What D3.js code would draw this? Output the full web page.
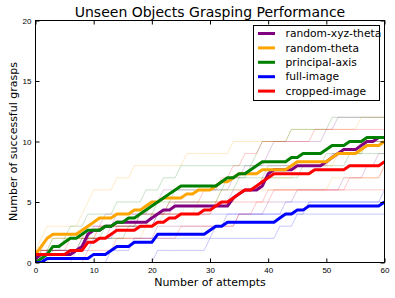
<!DOCTYPE html>
<html>
<head>
<meta charset="utf-8" />
<script src="https://d3js.org/d3.v7.min.js"></script>
<style>
  body { margin: 0; background: #fff; }
  svg { display: block; font-family: "DejaVu Sans", sans-serif; }
  .axis text { font-size: 8px; fill: #000; }
  .axis line { stroke: #000; }
  .axis .domain { display: none; }
</style>
</head>
<body>
<svg id="chart" width="395" height="298"></svg>
<script>

// method names and colours, legend order
var names = ["random-xyz-theta", "random-theta", "principal-axis", "full-image", "cropped-image"];
var colors = ["purple", "orange", "green", "blue", "red"];

var xTicks = [0, 10, 20, 30, 40, 50, 60];
var yTicks = [0, 5, 10, 15, 20];

// mean number of successful grasps after attempt 0..60
var meanXyzTheta = [0.33,0.67,0.67,0.67,0.67,0.67,0.67,1,1.33,2.33,
  2.67,2.67,3,3,3.33,3.33,3.33,3.33,3.33,3.33,
  3.67,4,4.33,4.33,4.67,4.67,4.67,4.67,4.67,4.67,
  4.67,4.67,4.67,4.67,5.33,5.67,6,6,6,6.33,
  7.33,7.67,7.67,7.67,7.67,8,8,8,8,8,
  8.33,8.67,9,9.33,9.33,9.33,9.67,10,10,10.33,
  10.33];
var meanTheta = [0.67,1.33,2,2.33,2.33,2.33,2.33,2.33,2.67,3,
  3.33,3.67,3.67,3.67,4,4,4,4.33,4.33,4.67,
  5,5,5.33,5.33,5.33,5.33,5.67,5.67,6,6,
  6,6.33,6.67,6.67,7,7.33,7.33,7.33,7.33,7.67,
  7.67,7.67,7.67,7.67,8,8.33,8.33,8.33,8.33,8.33,
  8.33,8.67,9,9,9,9,9.33,9.67,9.67,9.67,
  10];
var meanPrincipal = [0,0.33,0.67,1.33,1.33,1.67,2,2,2.33,2.67,
  2.67,2.67,3,3,3.33,3.33,3.67,3.67,4,4.33,
  4.67,5,5.33,5.67,6,6.33,6.33,6.33,6.33,6.33,
  6.33,6.33,6.67,7,7,7.33,7.33,7.67,8,8.33,
  8.33,8.33,8.33,8.33,8.67,8.67,9,9,9,9,
  9.33,9.67,9.67,9.67,10,10,10,10.33,10.33,10.33,
  10.33];
var meanFull = [0,0,0.33,0.33,0.33,0.33,0.33,0.33,0.33,0.33,
  0.67,0.67,0.67,1,1.33,1.33,1.33,1.67,1.67,1.67,
  1.67,2.33,2.33,2.33,2.33,2.33,2.33,2.33,2.33,2.33,
  2.67,3,3,3.33,3.33,3.33,3.33,3.33,3.33,3.33,
  3.33,3.33,3.67,4,4,4.33,4.33,4.67,4.67,4.67,
  4.67,4.67,4.67,4.67,4.67,4.67,4.67,4.67,4.67,4.67,
  5];
var meanCropped = [0.67,0.67,0.67,0.67,0.67,0.67,1,1,1,1.67,
  1.67,2,2,2.33,2.67,2.67,2.67,2.67,3,3,
  3,3.33,3.33,3.67,3.67,4,4,4,4,4.33,
  4.33,4.67,5,5,5.33,5.67,6,6,6.33,6.67,
  7,7.33,7.33,7.33,7.33,7.33,7.33,7.33,7.67,7.67,
  7.67,7.67,7.67,7.67,8,8,8,8,8,8,
  8.33];

// single runs: attempts at which a grasp succeeded
var runsXyzTheta = [
  [0, 8, 9, 12, 20, 22, 34, 36, 40, 41, 50, 52],
  [1, 9, 10, 14, 24, 34, 39, 40, 51, 56],
  [7, 9, 21, 35, 40, 45, 53, 57, 59]
];
var runsTheta = [
  [0, 1, 2, 8, 9, 10, 14, 17, 26, 34, 44, 56],
  [0, 2, 11, 20, 28, 32, 39, 45, 52, 57],
  [1, 3, 19, 22, 31, 35, 51, 60]
];
var runsPrincipal = [
  [1, 3, 6, 9, 14, 19, 22, 25, 38, 39, 44, 51],
  [2, 5, 12, 18, 21, 24, 33, 37, 50, 57],
  [3, 8, 16, 20, 23, 32, 35, 46, 54]
];
var runsFull = [
  [2, 10, 14, 21, 47, 60],
  [13, 17, 31, 33, 43],
  [21, 30, 42, 45]
];
var runsCropped = [
  [0, 9, 13, 18, 23, 29, 32, 34, 36, 39, 48],
  [0, 6, 11, 21, 31, 41, 54, 60],
  [9, 14, 25, 35, 38, 40]
];

var means = [meanXyzTheta, meanTheta, meanPrincipal, meanFull, meanCropped];
var runs = [runsXyzTheta, runsTheta, runsPrincipal, runsFull, runsCropped];

var svg = d3.select("#chart");

var x = d3.scaleLinear().domain([0, 60]).range([35.5, 384.5]);
var y = d3.scaleLinear().domain([0, 20]).range([262.5, 20.5]);

svg.append("clipPath").attr("id", "plotclip")
  .append("rect")
  .attr("x", x(0)).attr("y", y(20))
  .attr("width", x(60) - x(0)).attr("height", y(0) - y(20));

var plot = svg.append("g").attr("clip-path", "url(#plotclip)");

var line = d3.line()
  .x(function(d, i) { return x(i); })
  .y(function(d) { return y(d); });

// faint single runs
runs.forEach(function(set, k) {
  set.forEach(function(successes) {
    var counts = d3.range(0, 61).map(function(a) {
      return successes.filter(function(s) { return s <= a; }).length;
    });
    plot.append("path")
      .datum(counts)
      .attr("d", line)
      .attr("fill", "none")
      .attr("stroke", colors[k])
      .attr("stroke-opacity", 0.22)
      .attr("stroke-width", 1);
  });
});

// mean lines
means.forEach(function(m, k) {
  plot.append("path")
    .datum(m)
    .attr("d", line)
    .attr("fill", "none")
    .attr("stroke", colors[k])
    .attr("stroke-width", 3)
    .attr("stroke-linejoin", "round");
});

// axes, ticks pointing inwards on all four sides
svg.append("g").attr("class", "axis")
  .attr("transform", "translate(0," + y(0) + ")")
  .call(d3.axisBottom(x).tickValues(xTicks).tickSizeInner(-4).tickSizeOuter(0).tickPadding(4.5));
svg.append("g").attr("class", "axis")
  .attr("transform", "translate(0," + y(20) + ")")
  .call(d3.axisTop(x).tickValues(xTicks).tickSizeInner(-4).tickSizeOuter(0).tickFormat(""));
svg.append("g").attr("class", "axis")
  .attr("transform", "translate(" + x(0) + ",0)")
  .call(d3.axisLeft(y).tickValues(yTicks).tickSizeInner(-4).tickSizeOuter(0).tickPadding(4));
svg.append("g").attr("class", "axis")
  .attr("transform", "translate(" + x(60) + ",0)")
  .call(d3.axisRight(y).tickValues(yTicks).tickSizeInner(-4).tickSizeOuter(0).tickFormat(""));

svg.append("rect")
  .attr("x", x(0)).attr("y", y(20))
  .attr("width", x(60) - x(0)).attr("height", y(0) - y(20))
  .attr("fill", "none").attr("stroke", "#000").attr("stroke-width", 1);

svg.append("text")
  .attr("x", (x(0) + x(60)) / 2).attr("y", 17)
  .attr("text-anchor", "middle")
  .attr("font-size", 14)
  .text("Unseen Objects Grasping Performance");

svg.append("text")
  .attr("x", (x(0) + x(60)) / 2).attr("y", 286)
  .attr("text-anchor", "middle")
  .attr("font-size", 11)
  .text("Number of attempts");

svg.append("text")
  .attr("transform", "translate(17," + (y(0) + y(20)) / 2 + ") rotate(-90)")
  .attr("text-anchor", "middle")
  .attr("font-size", 11)
  .text("Number of successful grasps");

// legend
var legend = svg.append("g");
legend.append("rect")
  .attr("x", 253.5).attr("y", 25.5)
  .attr("width", 126).attr("height", 75)
  .attr("fill", "#fff").attr("stroke", "#000").attr("stroke-width", 1);

var items = legend.selectAll(".item")
  .data(names)
  .enter().append("g")
  .attr("class", "item")
  .attr("transform", function(d, i) { return "translate(0," + (33.5 + i * 14.4) + ")"; });

items.append("line")
  .attr("x1", 258).attr("x2", 275)
  .attr("stroke", function(d, i) { return colors[i]; })
  .attr("stroke-width", 3);

items.append("text")
  .attr("x", 285.5).attr("dy", "0.35em")
  .attr("font-size", 10.7)
  .text(function(d) { return d; });

</script>
</body>
</html>
